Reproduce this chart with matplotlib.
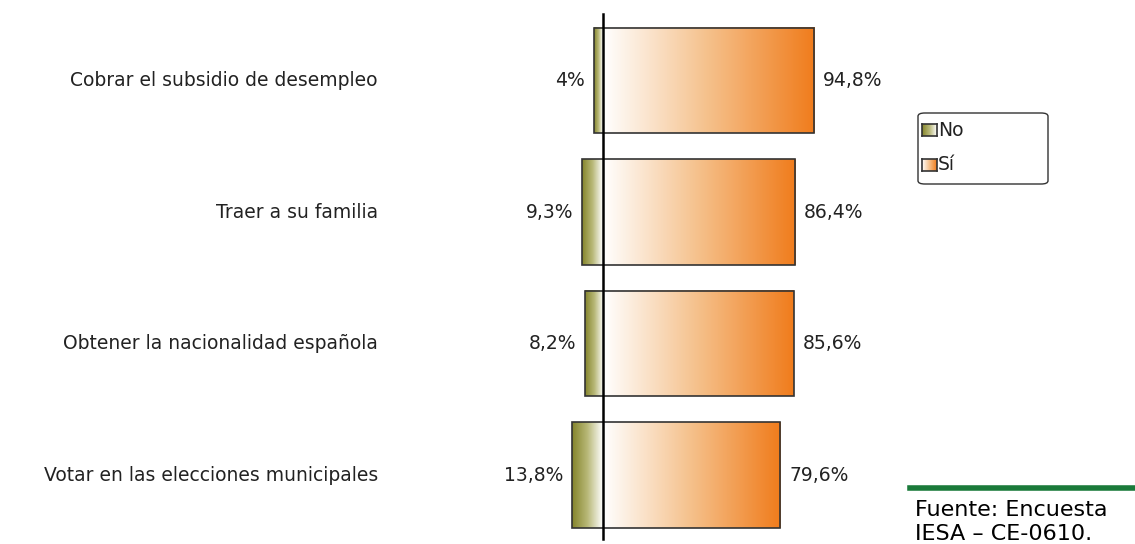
import numpy as np
import matplotlib.pyplot as plt
from matplotlib.colors import LinearSegmentedColormap
from matplotlib.patches import Rectangle, FancyBboxPatch

plt.rcParams['font.family'] = ['DejaVu Sans']

# Datos
categorias = ['Cobrar el subsidio de desempleo', 'Traer a su familia',
              'Obtener la nacionalidad española', 'Votar en las elecciones municipales']
no = [4.0, 9.3, 8.2, 13.8]
si = [94.8, 86.4, 85.6, 79.6]
etiq_no = ['4%', '9,3%', '8,2%', '13,8%']
etiq_si = ['94,8%', '86,4%', '85,6%', '79,6%']

cmap_si = LinearSegmentedColormap.from_list('si', ['#ffffff', '#f5c08a', '#f07c1c'])
cmap_no = LinearSegmentedColormap.from_list('no', ['#84842a', '#b8b878', '#ffffff'])

fig = plt.figure(figsize=(11.35, 5.44), dpi=100)
ax = fig.add_axes([0, 0, 1, 1])
ppx = 2.226  # pixels por %
ax.set_xlim(-603 / ppx, 532 / ppx)
ax.set_ylim(544 / 131.5 - 80.5 / 131.5, -80.5 / 131.5)
ax.axis('off')

alto = 0.8
fs = 13.5
grad = np.linspace(0, 1, 256).reshape(1, -1)
for i, cat in enumerate(categorias):
    y0, y1 = i - alto / 2, i + alto / 2
    ax.imshow(grad, cmap=cmap_si, aspect='auto', extent=(0, si[i], y1, y0), zorder=2)
    ax.imshow(grad, cmap=cmap_no, aspect='auto', extent=(-no[i], 0, y1, y0), zorder=2)
    ax.add_patch(Rectangle((-no[i], y0), no[i] + si[i], alto, fill=False,
                           edgecolor='#333333', lw=1.2, zorder=3))
    ax.text(-225 / ppx, i, cat, ha='right', va='center', fontsize=fs, color='#222222')
    ax.text(-no[i] - 4, i, etiq_no[i], ha='right', va='center', fontsize=fs, color='#222222')
    ax.text(si[i] + 4, i, etiq_si[i], ha='left', va='center', fontsize=fs, color='#222222')

ax.axvline(0, ymin=0.01, ymax=0.975, color='black', lw=1.8, zorder=4)

# Leyenda
def px(x, y):
    return (x / 1135, 1 - y / 544)

x0, y0 = px(918, 184)
x1, y1 = px(1048, 113)
fig.patches.append(FancyBboxPatch((x0, y0), x1 - x0, y1 - y0, boxstyle='round,pad=0,rounding_size=0.006',
                                  transform=fig.transFigure, fill=False, edgecolor='#333333', lw=1))
for j, (lab, cm) in enumerate([('No', cmap_no), ('Sí', cmap_si)]):
    yy = 130 + j * 35
    a = fig.add_axes([*px(922, yy + 6), 15 / 1135, 12 / 544])
    a.imshow(grad, cmap=cm, aspect='auto')
    a.set_xticks([]); a.set_yticks([])
    for s in a.spines.values():
        s.set_color('#333333')
        s.set_linewidth(1.2)
    fig.text(*px(938, yy), lab, ha='left', va='center', fontsize=13.5, color='#222222')

# Fuente
fig.add_artist(plt.Line2D([910 / 1135, 1], [1 - 488 / 544] * 2, color='#1a7a3a', lw=4))
fig.text(915 / 1135, 1 - 510 / 544, 'Fuente: Encuesta', fontsize=16, va='center', color='black')
fig.text(915 / 1135, 1 - 534 / 544, 'IESA – CE-0610.', fontsize=16, va='center', color='black')

fig.savefig('out.png', dpi=100)
